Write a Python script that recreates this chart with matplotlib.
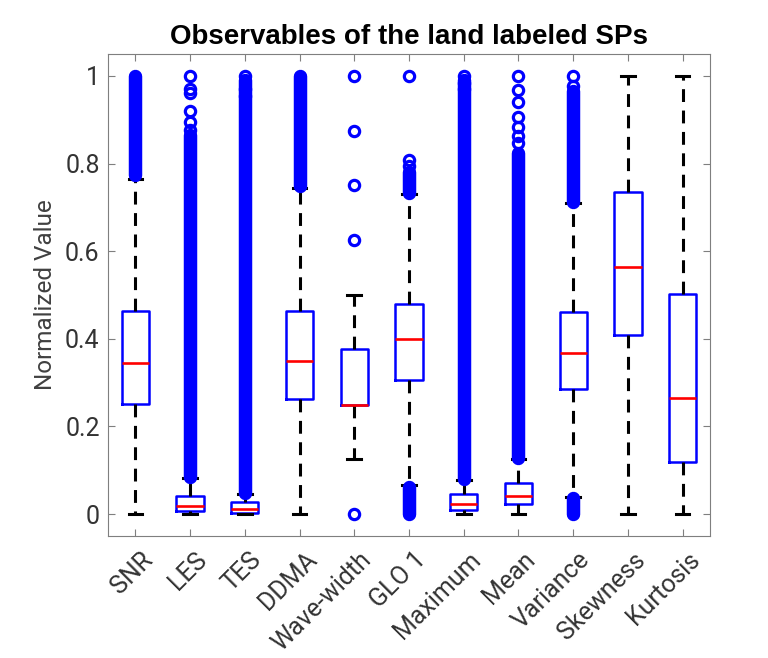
import matplotlib
matplotlib.use("Agg")
import matplotlib.pyplot as plt
import matplotlib.transforms as mtransforms

categories = ["SNR", "LES", "TES", "DDMA", "Wave-width", "GLO 1",
              "Maximum", "Mean", "Variance", "Skewness", "Kurtosis"]
q1 = [0.251, 0.008, 0.003, 0.263, 0.249, 0.306, 0.009, 0.024, 0.286, 0.409, 0.119]
median = [0.344, 0.018, 0.011, 0.349, 0.250, 0.400, 0.022, 0.041, 0.367, 0.564, 0.266]
q3 = [0.463, 0.041, 0.027, 0.463, 0.376, 0.479, 0.046, 0.072, 0.461, 0.734, 0.502]
whisker_low = [0.0, 0.0, 0.0, 0.0, 0.125, 0.066, 0.0, 0.0, 0.04, 0.0, 0.0]
whisker_high = [0.765, 0.082, 0.045, 0.745, 0.5, 0.73, 0.078, 0.125, 0.71, 1.0, 1.0]
# dense runs of outliers (low, high) and isolated outliers
outlier_bands = [
    [(0.775, 1.0)],
    [(0.085, 0.865)],
    [(0.048, 0.99)],
    [(0.748, 1.0)],
    [],
    [(0.0, 0.061), (0.733, 0.78)],
    [(0.081, 0.99)],
    [(0.127, 0.825)],
    [(0.0, 0.036), (0.713, 0.965)],
    [],
    [],
]
outlier_points = [
    [],
    [1.0, 0.97, 0.96, 0.92, 0.894, 0.877],
    [1.0, 0.97, 0.955],
    [],
    [1.0, 0.875, 0.75, 0.625, 0.0],
    [1.0, 0.808, 0.795],
    [1.0, 0.985, 0.97],
    [1.0, 0.967, 0.94, 0.907, 0.884, 0.863, 0.846],
    [1.0, 0.976],
    [],
    [],
]
yticks = [0, 0.2, 0.4, 0.6, 0.8, 1]
ytick_labels = ["0", "0.2", "0.4", "0.6", "0.8", "1"]

plt.rcParams["font.family"] = ["Roboto", "DejaVu Sans"]
fig = plt.figure(figsize=(7.68, 6.58), dpi=100)
ax = fig.add_axes([0.1406, 0.1854, 0.7839, 0.7325])

positions = list(range(1, len(categories) + 1))
stats = []
for i in range(len(categories)):
    stats.append(dict(med=median[i], q1=q1[i], q3=q3[i],
                      whislo=whisker_low[i], whishi=whisker_high[i],
                      fliers=[], label=categories[i]))

ax.bxp(stats, positions=positions, widths=0.5, showfliers=False,
       boxprops=dict(color="#0000ff", linewidth=1.8),
       medianprops=dict(color="#ff0000", linewidth=1.9),
       whiskerprops=dict(color="black", linewidth=2.2, linestyle=(0, (4.2, 2.8))),
       capprops=dict(color="black", linewidth=2.2),
       capwidths=0.25, zorder=2)

marker_d = 7.4
mew = 2.3
for i, pos in enumerate(positions):
    for lo, hi in outlier_bands[i]:
        ax.vlines(pos, lo, hi, colors="#0000ff", linewidth=marker_d + mew,
                  capstyle="round", zorder=3)
    if outlier_points[i]:
        ax.plot([pos] * len(outlier_points[i]), outlier_points[i], linestyle="none",
                marker="o", markersize=marker_d, markerfacecolor="none",
                markeredgecolor="#0000ff", markeredgewidth=mew, zorder=4)

ax.set_xlim(0.5, len(categories) + 0.5)
ax.set_ylim(-0.05, 1.05)
ax.set_xticks(positions)
ax.set_yticks(yticks)
ax.tick_params(direction="in", length=5, width=0.8, color="#7f7f7f",
               top=True, right=True, pad=6)
ax.set_xticklabels(categories, rotation=45, ha="right", va="center",
                   rotation_mode="anchor", fontsize=18, color="#333333")
ax.set_yticklabels(ytick_labels, fontsize=18, color="#333333")
offset = mtransforms.ScaledTranslation(9.5 / 72, -8.5 / 72, fig.dpi_scale_trans)
for lab in ax.get_xticklabels():
    lab.set_transform(lab.get_transform() + offset)
for s in ax.spines.values():
    s.set_color("#7f7f7f")
    s.set_linewidth(0.8)
ax.set_ylabel("Normalized Value", fontsize=17.5, color="#404040", labelpad=6)
ax.set_title("Observables of the land labeled SPs", fontsize=20, fontweight="bold",
             family=["Liberation Sans", "DejaVu Sans"], pad=7)

fig.savefig("out.png", dpi=100)
